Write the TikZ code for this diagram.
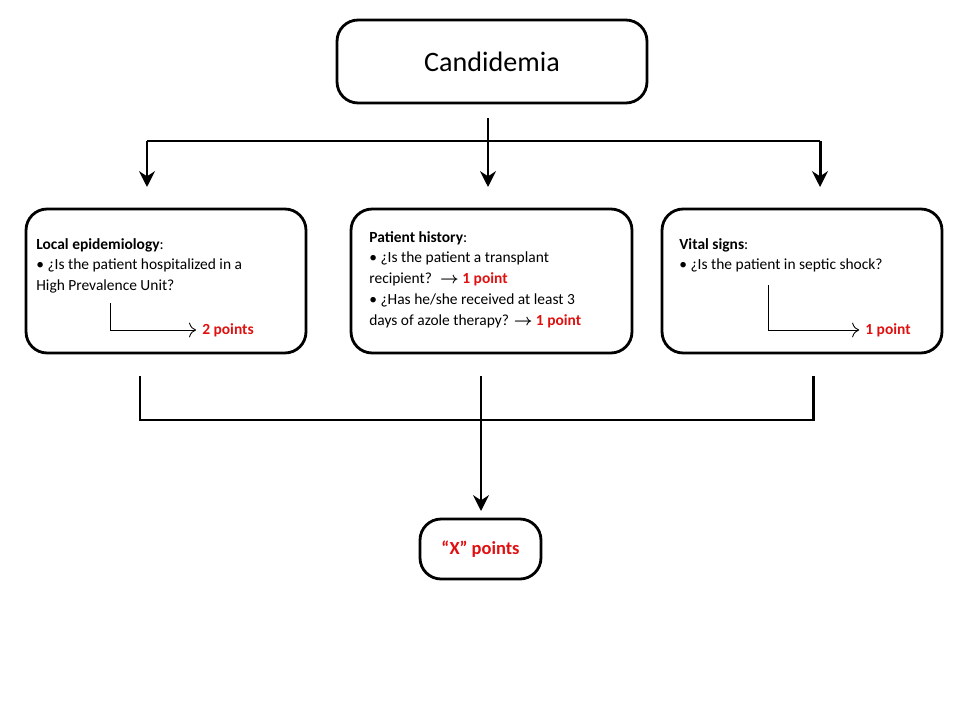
\documentclass[tikz,border=0pt]{standalone}
\usepackage{amsmath}
\usepackage{fontspec}
\setmainfont{Carlito}
\usetikzlibrary{positioning,arrows.meta}
\definecolor{ptred}{HTML}{E01010}
\tikzset{
  box/.style={draw,line width=1.6pt,rounded corners=12pt,inner sep=0pt},
  txt/.style={anchor=north west,align=left,font=\fontsize{8.8}{11.8}\selectfont,inner sep=0pt},
  link/.style={line width=1.7pt},
  pts/.style={text=ptred,font=\bfseries\fontsize{8.8}{10}\selectfont}
}
\begin{document}
\begin{tikzpicture}[x=0.02cm,y=-0.02cm]
     \useasboundingbox (0,0) rectangle (960,720);
     \node[box,minimum width=6.2cm,minimum height=1.66cm,font=\fontsize{16}{18}\selectfont] (top) at (492,61.5) {Candidemia};
     \node[box,minimum width=5.6cm,minimum height=2.88cm] (epi) at (166,281) {};
     \node[box,minimum width=5.62cm,minimum height=2.88cm] (hist) at (491.5,281) {};
     \node[box,minimum width=5.6cm,minimum height=2.88cm] (vital) at (802,281) {};
     \node[box,minimum width=2.42cm,minimum height=1.2cm,text=ptred,font=\bfseries\fontsize{10.5}{12}\selectfont] (xpts) at (480.5,549) {“X” points};

     % texts inside the boxes
     \node[txt] (epit) at (36,238) {\textbf{Local epidemiology}:\\ • ¿Is the patient hospitalized in a\\ High Prevalence Unit?};
     \node[txt] (histt) at (369,231) {\textbf{Patient history}:\\ • ¿Is the patient a transplant\\ recipient? \ $\boldsymbol{\rightarrow}$ \textcolor{ptred}{\textbf{1 point}}\\ • ¿Has he/she received at least 3\\ days of azole therapy? $\boldsymbol{\rightarrow}$ \textcolor{ptred}{\textbf{1 point}}};
     \node[txt] (vitalt) at (679,238) {\textbf{Vital signs}:\\ • ¿Is the patient in septic shock?};
     \node[pts] (p2) at (228,330) {2 points};
     \node[pts] (p1) at (888,330) {1 point};

     % small arrows to the points
     \coordinate (a1) at (110,303);
     \coordinate (a2) at (768,285);
     \draw[-{To[length=4pt]},line width=0.5pt] (a1) |- (p2.west);
     \draw[-{To[length=4pt]},line width=0.5pt] (a2) |- (p1.west);

     % top fork
     \coordinate (t0) at (488,118);
     \coordinate (t1) at (488,141);
     \coordinate (l1) at (147,141);
     \coordinate (r1) at (820,141);
     \draw[link] (t0) -- (t1);
     \draw[link] (l1) -- (r1);
     \draw[link,-{Stealth[length=9pt,width=9pt]}] (l1) -- (147,187);
     \draw[link,-{Stealth[length=9pt,width=9pt]}] (t1) -- (488,187);
     \draw[link,-{Stealth[length=9pt,width=9pt]}] (r1) -- (820,187);

     % bottom join
     \coordinate (b1) at (140,376);
     \coordinate (b2) at (813,376);
     \coordinate (bm) at (481,376);
     \coordinate (bx) at (481,511);
     \draw[link] (b1) -- (140,420) -- (813,420) -- (b2);
     \draw[link,-{Stealth[length=9pt,width=9pt]}] (bm) -- (bx);
\end{tikzpicture}
\end{document}
